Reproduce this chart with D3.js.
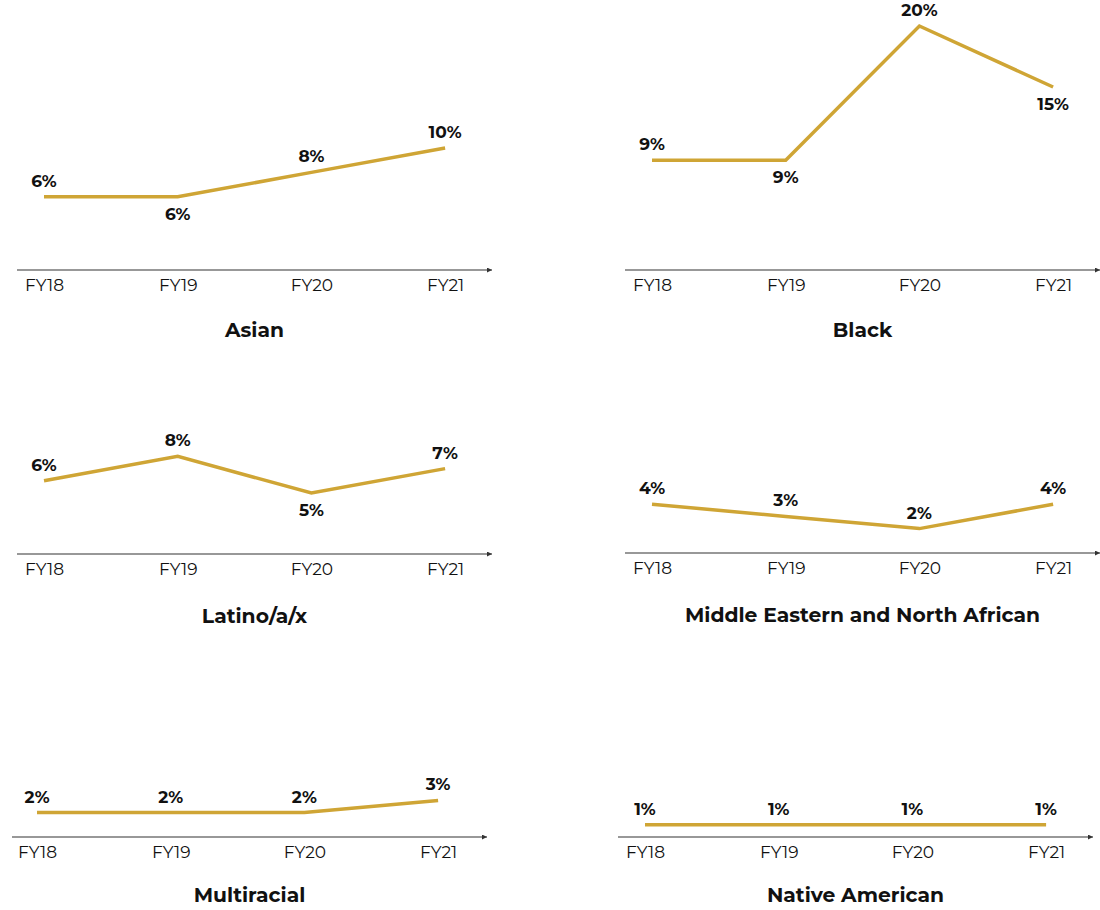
<!DOCTYPE html>
<html>
<head>
<meta charset="utf-8">
<script src="https://cdn.jsdelivr.net/npm/d3@7"></script>
<style>
  body { margin: 0; background: #fff; }
  text { font-family: "Montserrat", "Noto Sans", sans-serif; fill: #111; }
</style>
</head>
<body>
<svg id="chart" width="1100" height="910"></svg>
<script>
const years = ["FY18", "FY19", "FY20", "FY21"];

const titles = ["Asian", "Black", "Latino/a/x", "Middle Eastern and North African", "Multiracial", "Native American"];

const asian = [6, 6, 8, 10];
const black = [9, 9, 20, 15];
const latino = [6, 8, 5, 7];
const mena = [4, 3, 2, 4];
const multiracial = [2, 2, 2, 3];
const nativeAmerican = [1, 1, 1, 1];

const series = [asian, black, latino, mena, multiracial, nativeAmerican];

// which point labels sit under the line
const labelBelow = [[1], [1, 3], [2], [], [], []];

// panel placement: axis start x, first point x, axis baseline y, title offset
const panels = [
    { x0: 17, first: 44, axisY: 270, titleDy: 60 },
    { x0: 625, first: 652, axisY: 270, titleDy: 60 },
    { x0: 17, first: 44, axisY: 554, titleDy: 62 },
    { x0: 625, first: 652, axisY: 553, titleDy: 62 },
    { x0: 12, first: 37, axisY: 837, titleDy: 58 },
    { x0: 618, first: 645, axisY: 837, titleDy: 58 }
];

const gold = "#CFA535";
const axisWidth = 475;
const step = 133.7;
const pxPerPct = 12.2;

const svg = d3.select("#chart");

const defs = svg.append("defs");
defs.append("marker")
    .attr("id", "arrow")
    .attr("viewBox", "0 0 10 10")
    .attr("refX", 10)
    .attr("refY", 5)
    .attr("markerWidth", 10)
    .attr("markerHeight", 5)
    .attr("markerUnits", "userSpaceOnUse")
    .attr("orient", "auto")
    .append("path")
    .attr("d", "M0,0 L10,5 L0,10 Z")
    .attr("fill", "#333");

panels.forEach((p, k) => {
    const values = series[k];
    const g = svg.append("g");

    const x = d3.scalePoint()
        .domain(years)
        .range([p.first, p.first + 3 * step]);

    const y = d3.scaleLinear()
        .domain([0, 1])
        .range([p.axisY, p.axisY - pxPerPct]);

    // baseline with arrow
    g.append("line")
        .attr("x1", p.x0)
        .attr("x2", p.x0 + axisWidth)
        .attr("y1", p.axisY)
        .attr("y2", p.axisY)
        .attr("stroke", "#333")
        .attr("stroke-width", 1.2)
        .attr("marker-end", "url(#arrow)");

    // tick labels
    const xAxis = d3.axisBottom(x).tickSize(0).tickPadding(0);
    const ax = g.append("g")
        .attr("transform", `translate(0, ${p.axisY + 15})`)
        .call(xAxis);
    ax.select(".domain").remove();
    ax.selectAll("text")
        .attr("dy", "0.35em")
        .attr("y", 0)
        .style("font-size", "17px")
        .style("font-family", "Montserrat, 'Noto Sans', sans-serif")
        .attr("fill", "#111");

    const line = d3.line()
        .x((d, i) => x(years[i]))
        .y(d => y(d));

    g.append("path")
        .datum(values)
        .attr("d", line)
        .attr("fill", "none")
        .attr("stroke", gold)
        .attr("stroke-width", 3.5);

    g.selectAll(".val")
        .data(values)
        .enter()
        .append("text")
        .attr("class", "val")
        .attr("x", (d, i) => x(years[i]))
        .attr("y", (d, i) => y(d) + (labelBelow[k].includes(i) ? 17 : -16))
        .attr("dy", "0.35em")
        .attr("text-anchor", "middle")
        .style("font-size", "17px")
        .style("font-weight", "700")
        .text(d => `${d}%`);

    g.append("text")
        .attr("x", p.x0 + axisWidth / 2)
        .attr("y", p.axisY + p.titleDy)
        .attr("dy", "0.35em")
        .attr("text-anchor", "middle")
        .style("font-size", "20.3px")
        .style("font-weight", "700")
        .text(titles[k]);
});
</script>
</body>
</html>
